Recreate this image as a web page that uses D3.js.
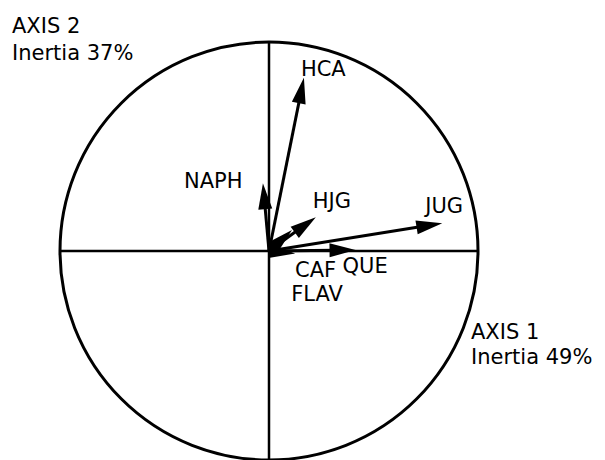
<!DOCTYPE html>
<html>
<head>
<meta charset="utf-8">
<script src="https://cdn.jsdelivr.net/npm/d3@7"></script>
<style>
  body { margin: 0; background: #fff; }
  svg text { font-family: "DejaVu Sans", Verdana, sans-serif; font-size: 21px; fill: #000; }
</style>
</head>
<body>
<div id="chart"></div>
<script>
// variable loadings on axis 1 / axis 2 (unit circle)
var names = ["HCA", "NAPH", "HJG", "JUG", "QUE", "CAF", "FLAV"]
var axis1 = [0.167, -0.029, 0.224, 0.829, 0.414, 0.110, 0.125]
var axis2 = [0.829, 0.324, 0.162, 0.133, 0.005, 0.100, -0.012]
var axisTitles = ["AXIS 1", "AXIS 2"]
var inertia = ["Inertia 49%", "Inertia 37%"]

// label offsets from arrow tip, in px
var labelOffset = {
  HCA: [-3, -2],
  NAPH: [-79, 5],
  HJG: [-3, -9],
  JUG: [-17, -10],
  QUE: [-13, 23],
  CAF: [3, 47],
  FLAV: [-4, 47]
}

var width = 605, height = 460
var cx = 269, cy = 251, r = 209

var svg = d3.select("#chart").append("svg")
  .attr("width", width)
  .attr("height", height)

var x = d3.scaleLinear().domain([-1, 1]).range([cx - r, cx + r])
var y = d3.scaleLinear().domain([-1, 1]).range([cy + r, cy - r])

// correlation circle
svg.append("circle")
  .attr("cx", x(0))
  .attr("cy", y(0))
  .attr("r", x(1) - x(0))
  .attr("fill", "none")
  .attr("stroke", "#000")
  .attr("stroke-width", 3)

// axes
svg.append("line")
  .attr("x1", x(-1)).attr("x2", x(1))
  .attr("y1", y(0)).attr("y2", y(0))
  .attr("stroke", "#000").attr("stroke-width", 2.5)
svg.append("line")
  .attr("x1", x(0)).attr("x2", x(0))
  .attr("y1", y(-1)).attr("y2", y(1))
  .attr("stroke", "#000").attr("stroke-width", 2.5)

var data = names.map(function (n, i) {
  return { name: n, a1: axis1[i], a2: axis2[i] }
})

var headLen = 26, headHalf = 7

function shaftEnd(d) {
  var x1 = x(d.a1), y1 = y(d.a2)
  var len = Math.hypot(x1 - x(0), y1 - y(0))
  var k = Math.max(0, len - headLen * 0.8) / len
  return [x(0) + (x1 - x(0)) * k, y(0) + (y1 - y(0)) * k]
}

var arrows = svg.append("g").selectAll("g")
  .data(data)
  .enter().append("g")

arrows.append("line")
  .attr("x1", x(0))
  .attr("y1", y(0))
  .attr("x2", function (d) { return shaftEnd(d)[0] })
  .attr("y2", function (d) { return shaftEnd(d)[1] })
  .attr("stroke", "#000")
  .attr("stroke-width", 3)

arrows.append("path")
  .attr("d", function (d) {
    var x1 = x(d.a1), y1 = y(d.a2)
    var ang = Math.atan2(y1 - y(0), x1 - x(0))
    var len = Math.min(headLen, Math.hypot(x1 - x(0), y1 - y(0)))
    var bx = x1 - Math.cos(ang) * len, by = y1 - Math.sin(ang) * len
    var px = -Math.sin(ang) * headHalf, py = Math.cos(ang) * headHalf
    return "M" + x1 + "," + y1 +
      "L" + (bx + px) + "," + (by + py) +
      "L" + (bx - px) + "," + (by - py) + "Z"
  })
  .attr("fill", "#000")

arrows.append("text")
  .attr("x", function (d) { return x(d.a1) + labelOffset[d.name][0] })
  .attr("y", function (d) { return y(d.a2) + labelOffset[d.name][1] })
  .text(function (d) { return d.name })

// axis titles
svg.append("text").attr("x", 12).attr("y", 33).text(axisTitles[1])
svg.append("text").attr("x", 12).attr("y", 60).text(inertia[1])
svg.append("text").attr("x", 471).attr("y", 339).text(axisTitles[0])
svg.append("text").attr("x", 471).attr("y", 364).text(inertia[0])
</script>
</body>
</html>
